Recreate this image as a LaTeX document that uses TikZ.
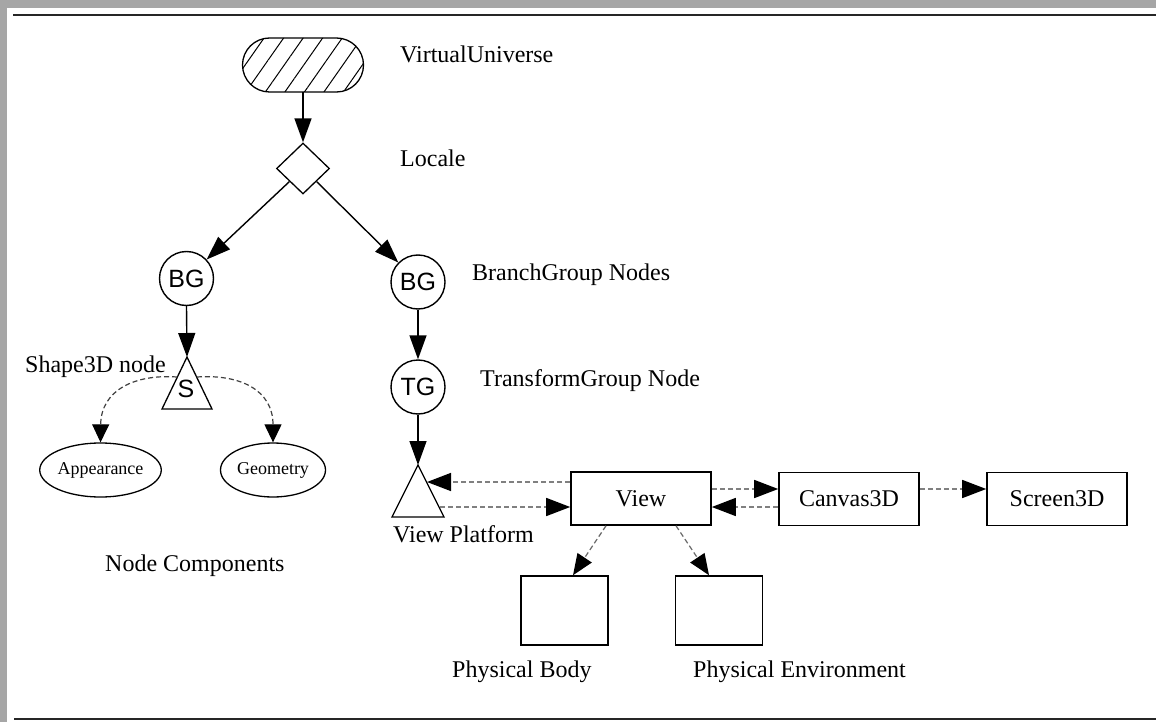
\documentclass[tikz,border=0pt]{standalone}
\usepackage{fontspec}
\setmainfont{Liberation Serif}
\newfontfamily\arialf{Liberation Sans}
\usetikzlibrary{shapes.geometric,shapes.misc,arrows.meta,patterns.meta}
\begin{document}
\begin{tikzpicture}[x=1pt,y=-1pt,
  lbl/.style={anchor=base west, inner sep=0, font=\fontsize{24}{28}\selectfont},
  circ/.style={circle, draw, line width=1.4pt, minimum size=54pt, inner sep=0, font=\arialf\fontsize{25}{28}\selectfont},
  boxn/.style={draw, line width=1.6pt, minimum width=140pt, minimum height=53pt, inner sep=0, font=\fontsize{24}{28}\selectfont},
  pbox/.style={draw, line width=1.6pt, minimum width=87pt, minimum height=69pt, inner sep=0},
  ell/.style={ellipse, draw, line width=1.3pt, minimum width=105pt, minimum height=54pt, inner sep=0, font=\fontsize{18}{20}\selectfont},
  solidarrow/.style={line width=1.4pt, -{Triangle[length=24pt,width=17pt]}},
  dasharrow/.style={draw=black!50, line width=1.5pt, dash pattern=on 5pt off 3pt, -{Triangle[length=24pt,width=18pt,color=black]}},
  dasharrowsmall/.style={draw=black!75, line width=1.2pt, dash pattern=on 5pt off 3pt, -{Triangle[length=18pt,width=17pt,color=black]}},
  dasharrowmid/.style={draw=black!60, line width=1.2pt, dash pattern=on 5pt off 3pt, -{Triangle[length=21pt,width=17pt,color=black]}},
]
\useasboundingbox (0,0) rectangle (1156,722);
% frame
\fill[black!35] (0,0) rectangle (1156,8);
\fill[black!35] (0,0) rectangle (7,722);
\draw[line width=2.5pt, black!85] (13,15) -- (1156,15);
\draw[line width=2.5pt, black!85] (14,719) -- (1156,719);

% nodes
\node[rounded rectangle, draw, line width=1.3pt, minimum width=121pt, minimum height=54pt, inner sep=0,
  pattern={Lines[angle=55,distance=16pt,line width=1pt]}] (vu) at (303,65) {};
\node[diamond, draw, line width=1.3pt, minimum width=53pt, minimum height=51pt, inner sep=0] (loc) at (303,168.5) {};
\node[circ] (bg1) at (186.5,278.5) {BG};
\node[circ] (bg2) at (418,282) {BG};
\node[circ] (tg) at (418,387) {TG};

% Shape3D triangle
\draw[line width=1.3pt] (187,357) coordinate (sTop) -- (212,409) -- (162,409) -- cycle;
\node[inner sep=0, font=\arialf\fontsize{25}{28}\selectfont] (s) at (186,389) {S};
\coordinate (sL) at (177,377);
\coordinate (sR) at (197,377);

\node[ell] (app) at (100.5,470) {Appearance};
\node[ell] (geo) at (273,470) {Geometry};

% View platform triangle
\draw[line width=1.3pt] (418,465) coordinate (vpTop) -- (444,517) -- (392,517) -- cycle;
\coordinate (vpU) at (427,482);
\coordinate (vpD) at (440,507);

\node[boxn] (view) at (641,498.5) {View};
\node[boxn] (canvas) at (849,499) {Canvas3D};
\node[boxn] (screen) at (1057,499) {Screen3D};
\node[pbox] (pb) at (564.5,610.5) {};
\node[pbox] (pe) at (719,610.5) {};

\coordinate (hu) at (0,489);
\coordinate (hd) at (0,507);

% connectors
\draw[solidarrow] (vu.south) -- (loc.north);
\draw[solidarrow] (loc.south west) -- (bg1);
\draw[solidarrow] (loc.south east) -- (bg2);
\draw[solidarrow] (bg1.south) -- (sTop);
\draw[solidarrow] (bg2) -- (tg);
\draw[solidarrow] (tg) -- (vpTop);

\draw[dasharrowsmall] (sL) .. controls (135,374) and (101,390) .. (app.north);
\draw[dasharrowsmall] (sR) .. controls (240,374) and (273,390) .. (geo.north);

\draw[dasharrow] (view.west |- vpU) -- (vpU);
\draw[dasharrow] (vpD) -- (view.west |- vpD);
\draw[dasharrow] (view.east |- hu) -- (canvas.west |- hu);
\draw[dasharrow] (canvas.west |- hd) -- (view.east |- hd);
\draw[dasharrow] (canvas.east |- hu) -- (screen.west |- hu);
\draw[dasharrowmid] ([xshift=-35pt]view.south) -- ([xshift=8.5pt]pb.north);
\draw[dasharrowmid] ([xshift=35pt]view.south) -- ([xshift=-10pt]pe.north);

% labels
\node[lbl] (lvu) at (400,63) {VirtualUniverse};
\node[lbl] (lloc) at (400,167) {Locale};
\node[lbl] (lbg) at (472,280) {BranchGroup Nodes};
\node[lbl] (ltg) at (480,386) {TransformGroup Node};
\node[lbl] (lsh) at (25,372) {Shape3D node};
\node[lbl] (lvp) at (393,542) {View Platform};
\node[lbl] (lnc) at (105,571) {Node Components};
\node[lbl] (lpb) at (452,677) {Physical Body};
\node[lbl] (lpe) at (693,677) {Physical Environment};
\end{tikzpicture}
\end{document}
